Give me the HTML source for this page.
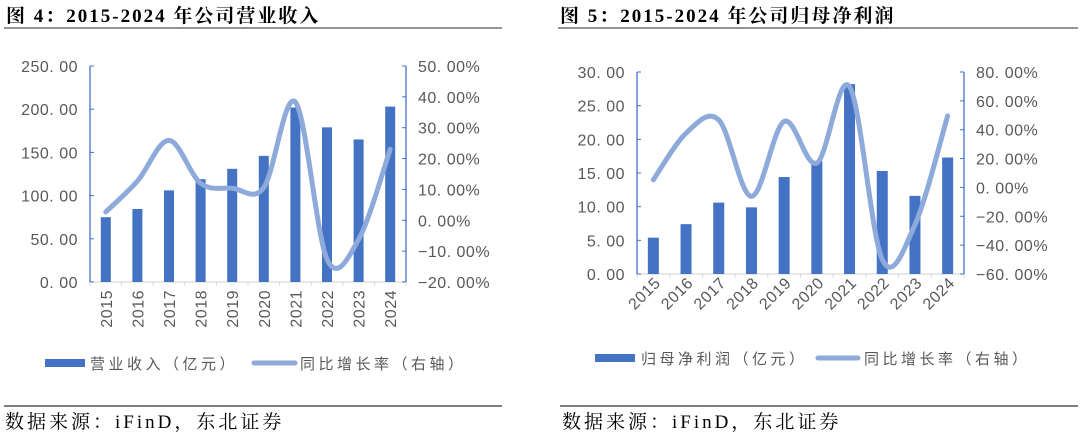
<!DOCTYPE html>
<html><head><meta charset="utf-8">
<style>
html,body{margin:0;padding:0;background:#fff;}
body{width:1080px;height:437px;overflow:hidden;position:relative;}
svg{position:absolute;left:0;top:0;}
.t{font-family:"Liberation Serif","Noto Serif CJK SC",serif;font-weight:bold;font-size:19px;fill:#000;letter-spacing:2px;}
.tick{font-family:"Liberation Sans","Noto Sans CJK SC",sans-serif;font-size:16px;fill:#595959;letter-spacing:0.5px;}
.leg{font-family:"Liberation Sans","Noto Sans CJK SC",sans-serif;font-size:15px;fill:#595959;letter-spacing:3.5px;}
.src{font-family:"Liberation Serif","Noto Serif CJK SC",serif;font-size:19px;fill:#000;letter-spacing:3px;}
</style></head>
<body>
<svg id="s" width="1080" height="437">
  <text class="t" x="6" y="22">图 4：2015-2024 年公司营业收入</text>
  <line x1="4" y1="28" x2="502" y2="28" stroke="#555" stroke-width="1.2"/>
  <text class="t" x="560" y="22">图 5：2015-2024 年公司归母净利润</text>
  <line x1="558" y1="28" x2="1078" y2="28" stroke="#555" stroke-width="1.2"/>

  <rect x="45" y="359" width="40" height="8" fill="#4472c4"/>
  <text class="leg" x="90" y="369">营业收入（亿元）</text>
  <line x1="254" y1="363" x2="295" y2="363" stroke="#8eaadb" stroke-width="5" stroke-linecap="round"/>
  <text class="leg" x="300" y="369">同比增长率（右轴）</text>

  <rect x="595" y="354" width="40" height="8" fill="#4472c4"/>
  <text class="leg" x="641" y="364">归母净利润（亿元）</text>
  <line x1="818" y1="358" x2="858" y2="358" stroke="#8eaadb" stroke-width="5" stroke-linecap="round"/>
  <text class="leg" x="864" y="364">同比增长率（右轴）</text>

  <line x1="4" y1="406" x2="502" y2="406" stroke="#333" stroke-width="1.2"/>
  <text class="src" x="5" y="428">数据来源：iFinD，东北证券</text>
  <line x1="560" y1="406" x2="1078" y2="406" stroke="#333" stroke-width="1.2"/>
  <text class="src" x="562" y="428">数据来源：iFinD，东北证券</text>
</svg>
<script>
const years = ["2015","2016","2017","2018","2019","2020","2021","2022","2023","2024"];
const revenue = [75, 84.5, 106, 119, 131, 146, 202, 179, 165, 203];
const revenueGrowth = [2.7, 12.7, 25.9, 12, 10.4, 10.6, 38.3, -12.6, -6.2, 23];
const revLeftTicks = [0, 50, 100, 150, 200, 250];
const revRightTicks = [-20, -10, 0, 10, 20, 30, 40, 50];
const profit = [5.4, 7.4, 10.6, 9.9, 14.4, 16.8, 28.2, 15.3, 11.6, 17.3];
const profitGrowth = [5.3, 37.6, 46.8, -6.2, 45.7, 16.9, 69.9, -50, -25.8, 49.6];
const profLeftTicks = [0, 5, 10, 15, 20, 25, 30];
const profRightTicks = [-60, -40, -20, 0, 20, 40, 60, 80];

const svg = document.getElementById('s');
const NS = 'http://www.w3.org/2000/svg';
function mk(tag, attrs){const e=document.createElementNS(NS,tag);for(const k in attrs)e.setAttribute(k,attrs[k]);svg.appendChild(e);return e;}

function draw(cfg, prefix){
  const {x0,x1,yTop,yBot,lMin,lMax,rMin,rMax,bars,line,lTicks,rTicks,barW,rot}=cfg;
  const n = years.length, step=(x1-x0)/n;
  const xc = i => x0 + step*(i+0.5);
  const yl = v => yBot - (v-lMin)/(lMax-lMin)*(yBot-yTop);
  const yr = v => yBot - (v-rMin)/(rMax-rMin)*(yBot-yTop);
  let e = mk('line',{x1:x0,y1:yTop,x2:x0,y2:yBot,stroke:'#4472c4','stroke-width':1.3});
  
  
  e = mk('line',{x1:x1,y1:yTop,x2:x1,y2:yBot,stroke:'#4472c4','stroke-width':1.3});
  
  
  e = mk('line',{x1:x0,y1:yBot,x2:x1,y2:yBot,stroke:'#d9d9d9','stroke-width':1.2});
  
  
  for(let i=0;i<=n;i++){
    e = mk('line',{x1:x0+step*i,y1:yBot,x2:x0+step*i,y2:yBot+4,stroke:'#d9d9d9'});
    
    
  }
  lTicks.forEach(v=>{
    const y=yl(v);
    e = mk('line',{x1:x0,y1:y,x2:x0+4,y2:y,stroke:'#4472c4'});
    
    
    e = mk('text',{x:x0-12,y:y+6,'text-anchor':'end',class:'tick'});
    e.textContent = v.toFixed(2).replace('.', '. ');
    
    
  });
  rTicks.forEach(v=>{
    const y=yr(v);
    e = mk('line',{x1:x1-4,y1:y,x2:x1,y2:y,stroke:'#4472c4'});
    
    
    e = mk('text',{x:x1+12,y:y+6,class:'tick'});
    e.textContent = (v<0?'\u2212':'') + Math.abs(v).toFixed(2).replace('.', '. ') + '%';
    
    
  });
  bars.forEach((v,i)=>{
    e = mk('rect',{x:xc(i)-barW/2,y:yl(v),width:barW,height:yBot-yl(v),fill:'#4472c4'});
    
    
  });
  years.forEach((yr_,i)=>{
    let t;
    if(rot===-90){
      t = mk('text',{x:0,y:0,class:'tick','text-anchor':'end',transform:`translate(${xc(i)+6},${yBot+8}) rotate(-90)`});
    } else {
      t = mk('text',{x:0,y:0,class:'tick','text-anchor':'end',transform:`translate(${xc(i)+8},${yBot+10}) rotate(-45)`});
    }
    t.textContent = yr_;
    
    
  });
  const pts = line.map((v,i)=>[xc(i),yr(v)]);
  let d = `M${pts[0][0]},${pts[0][1]}`;
  const k=1/6;
  for(let i=0;i<pts.length-1;i++){
    const p0=pts[Math.max(0,i-1)],p1=pts[i],p2=pts[i+1],p3=pts[Math.min(pts.length-1,i+2)];
    const c1=[p1[0]+(p2[0]-p0[0])*k,p1[1]+(p2[1]-p0[1])*k];
    const c2=[p2[0]-(p3[0]-p1[0])*k,p2[1]-(p3[1]-p1[1])*k];
    d+=` C${c1[0]},${c1[1]} ${c2[0]},${c2[1]} ${p2[0]},${p2[1]}`;
  }
  e = mk('path',{d:d,fill:'none',stroke:'#8eaadb','stroke-width':5,'stroke-linecap':'round','stroke-linejoin':'round'});
  
  
}
draw({x0:90,x1:406,yTop:66,yBot:282,lMin:0,lMax:250,rMin:-20,rMax:50,bars:revenue,line:revenueGrowth,lTicks:revLeftTicks,rTicks:revRightTicks,barW:10,rot:-90},'revenue-chart');
draw({x0:637,x1:964,yTop:72,yBot:274,lMin:0,lMax:30,rMin:-60,rMax:80,bars:profit,line:profitGrowth,lTicks:profLeftTicks,rTicks:profRightTicks,barW:11,rot:-45},'profit-chart');
</script>
</body></html>
